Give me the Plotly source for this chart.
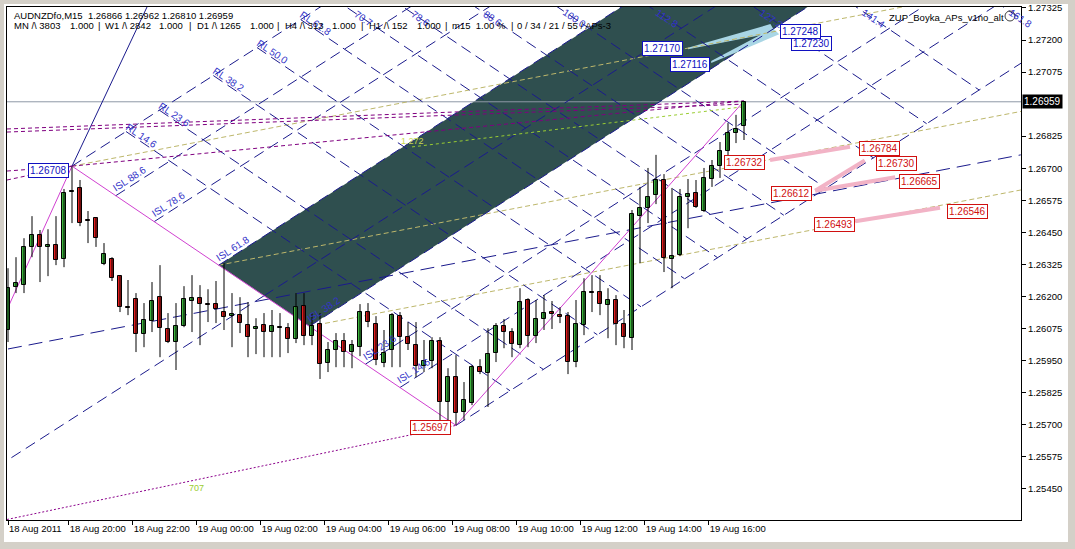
import plotly.graph_objects as go

# ---------------- data ----------------
bar_index = list(range(93))
opens = [1.26069,1.26236,1.26244,1.26393,1.26439,1.26393,1.26400,1.26345,1.26609,1.26623,
         1.26498,1.26505,1.26326,1.26345,1.26279,1.26158,1.26190,1.26053,1.26104,1.26197,
         1.26073,1.26022,1.26084,1.26182,1.26193,1.26170,1.26170,1.26139,1.26123,1.26127,
         1.26088,1.26073,1.26088,1.26061,1.26080,1.26076,1.26034,1.26162,1.26045,1.26092,
         1.25940,1.25991,1.26026,1.25983,1.26002,1.26139,1.26092,1.25940,1.25991,1.26123,
         1.26041,1.26010,1.25928,1.25947,1.26026,1.25788,1.25885,1.25749,1.25784,1.25924,
         1.25901,1.25979,1.26084,1.26061,1.26010,1.26186,1.26045,1.26112,1.26139,1.26127,
         1.26123,1.25944,1.26088,1.26217,1.26217,1.26166,1.26186,1.26092,1.26037,1.26513,
         1.26545,1.26596,1.26654,1.26345,1.26361,1.26588,1.26603,1.26533,1.26658,1.26709,
         1.26767,1.26837,1.26866]
highs = [1.26310,1.26353,1.26427,1.26513,1.26459,1.26462,1.26513,1.26619,1.26708,1.26654,
         1.26533,1.26509,1.26408,1.26353,1.26283,1.26264,1.26213,1.26174,1.26256,1.26322,
         1.26135,1.26174,1.26240,1.26283,1.26244,1.26228,1.26260,1.26330,1.26213,1.26197,
         1.26178,1.26115,1.26135,1.26147,1.26135,1.26096,1.26213,1.26213,1.26135,1.26135,
         1.26022,1.26057,1.26057,1.26030,1.26170,1.26174,1.26123,1.26069,1.26135,1.26139,
         1.26100,1.26100,1.26030,1.26041,1.26041,1.25920,1.25971,1.25866,1.25932,1.25955,
         1.26076,1.26096,1.26112,1.26076,1.26232,1.26193,1.26186,1.26205,1.26182,1.26158,
         1.26139,1.26186,1.26271,1.26283,1.26283,1.26232,1.26205,1.26147,1.26537,1.26627,
         1.26701,1.26752,1.26677,1.26623,1.26619,1.26658,1.26654,1.26701,1.26732,1.26802,
         1.26876,1.26908,1.26962]
lows = [1.26022,1.26213,1.26213,1.26353,1.26256,1.26279,1.26322,1.26314,1.26486,1.26474,
        1.26408,1.26393,1.26322,1.26260,1.26139,1.26127,1.25983,1.26002,1.26061,1.25963,
        1.26018,1.25913,1.26080,1.26061,1.26010,1.26100,1.26096,1.26069,1.26002,1.26057,
        1.25963,1.25975,1.25963,1.25963,1.25963,1.25979,1.26018,1.26010,1.26010,1.25878,
        1.25905,1.25924,1.25924,1.25920,1.25967,1.26080,1.25932,1.25924,1.25924,1.25924,
        1.25991,1.25885,1.25905,1.25920,1.25706,1.25718,1.25697,1.25718,1.25776,1.25897,
        1.25769,1.25944,1.25998,1.25963,1.25998,1.26002,1.26018,1.26069,1.26073,1.26096,
        1.25897,1.25924,1.26049,1.26139,1.26127,1.26037,1.26010,1.25998,1.25991,1.26330,
        1.26486,1.26560,1.26295,1.26232,1.26357,1.26466,1.26545,1.26529,1.26627,1.26662,
        1.26705,1.26798,1.26810]
closes = [1.26232,1.26252,1.26393,1.26439,1.26393,1.26400,1.26341,1.26603,1.26612,1.26486,
          1.26496,1.26427,1.26365,1.26271,1.26158,1.26156,1.26053,1.26108,1.26182,1.26076,
          1.26022,1.26084,1.26190,1.26193,1.26170,1.26168,1.26151,1.26119,1.26131,1.26096,
          1.26041,1.26080,1.26061,1.26084,1.26078,1.26034,1.26158,1.26045,1.26084,1.25936,
          1.25991,1.26026,1.25983,1.26010,1.26139,1.26100,1.25951,1.25979,1.26127,1.26041,
          1.26014,1.25928,1.25947,1.26026,1.25788,1.25885,1.25745,1.25796,1.25924,1.25905,
          1.25975,1.26084,1.26061,1.26014,1.26178,1.26045,1.26112,1.26135,1.26131,1.26119,
          1.25944,1.26092,1.26217,1.26215,1.26170,1.26186,1.26092,1.26041,1.26521,1.26545,
          1.26588,1.26654,1.26349,1.26357,1.26588,1.26599,1.26549,1.26662,1.26709,1.26767,
          1.26837,1.26853,1.26959]

time_tick_index = [0, 8, 16, 24, 32, 40, 48, 56, 64, 72, 80, 88]
time_tick_labels = ["18 Aug 2011", "18 Aug 20:00", "18 Aug 22:00", "19 Aug 00:00",
                    "19 Aug 02:00", "19 Aug 04:00", "19 Aug 06:00", "19 Aug 08:00",
                    "19 Aug 10:00", "19 Aug 12:00", "19 Aug 14:00", "19 Aug 16:00"]
price_tick_values = [1.25325, 1.25450, 1.25575, 1.25700, 1.25825, 1.25950, 1.26075, 1.26200,
                     1.26325, 1.26450, 1.26575, 1.26700, 1.26825, 1.27075, 1.27200, 1.27325]
last_price = 1.26959

# zigzag swing points (bar index, price)
swing_prev = (-1.0, 1.26088)
swing_a = (8, 1.26708)
swing_b = (56, 1.25697)
swing_c = (92, 1.26962)

isl_levels = [100.0, 88.6, 78.6, 61.8, 50.0, 38.2, 23.6, 14.6, 0.0]
isl_labels = [88.6, 78.6, 61.8, 38.2, 23.6, 14.6]
rl_levels = [14.6, 23.6, 38.2, 50.0, 61.8, 70.7, 78.6, 88.6, 100.0, 112.8, 127.2, 141.4, 161.8]
rl_unit_bars = 46.25          # bars along the up-slope for 100 %
up_slope = 0.0002             # price per bar of the up-sloping lattice

fork_slope = 0.0000598        # price per bar of the khaki median lines
blue_long_line = [(0, 1.25995), (126.6, 1.26752)]

blue_boxes = [("1.26708", 5.1, 1.26693), ("1.27170", 81.75, 1.27165),
              ("1.27116", 85.25, 1.27106), ("1.27230", 100.4, 1.27188),
              ("1.27248", 99.1, 1.27235)]
red_boxes = [("1.25697", 52.75, 1.25687), ("1.26732", 92.06, 1.26724),
             ("1.26784", 108.9, 1.26775), ("1.26730", 111.0, 1.26720),
             ("1.26612", 97.9, 1.26603), ("1.26665", 113.9, 1.26650),
             ("1.26493", 103.25, 1.26479), ("1.26546", 119.9, 1.26533)]
pink_lines = [((95.25, 1.26732), (105.25, 1.26784)),
              ((100.9, 1.26612), (107.1, 1.26730)),
              ((100.9, 1.26612), (110.9, 1.26665)),
              ((105.9, 1.26493), (116.5, 1.26546))]
light_wedges = [[(85.0, 1.27170), (95.3, 1.27262), (95.9, 1.27230), (85.0, 1.27164)],
                [(87.9, 1.27118), (95.6, 1.27246), (96.4, 1.27222), (87.9, 1.27110)]]

XMIN, XMAX = -0.125, 126.625
YMIN, YMAX = 1.25328, 1.273287

# ---------------- helpers ----------------
shapes = []
annotations = []
NAVY = "#1a1a8c"
LBLUE = "#3434c8"


def line(p, q, color, width=1, dash=None, layer="below"):
    d = dict(type="line", xref="x", yref="y", x0=p[0], y0=p[1], x1=q[0], y1=q[1],
             line=dict(color=color, width=width), layer=layer)
    if dash:
        d["line"]["dash"] = dash
    shapes.append(d)


def poly(pts, color, layer="below"):
    path = "M " + " L ".join(f"{x},{y}" for x, y in pts) + " Z"
    shapes.append(dict(type="path", xref="x", yref="y", path=path, fillcolor=color,
                       line=dict(width=0), layer=layer))


def along(p, vec, t):
    return (p[0] + vec[0] * t, p[1] + vec[1] * t)


down_vec = (swing_b[0] - swing_a[0], swing_b[1] - swing_a[1])
up_vec = (1.0, up_slope)

# dark channel between ISL 61.8 and ISL 38.2
p618 = along(swing_a, down_vec, 1 - 0.618)
p382 = along(swing_a, down_vec, 1 - 0.382)
poly([p618, p382, along(p382, up_vec, 120), along(p618, up_vec, 120)], "#2f4f4f")

# light blue target wedges
for w in light_wedges:
    poly(w, "#a9d6e5")

# horizontal last price line
line((XMIN, last_price), (XMAX, last_price), "#8f99a6", 1)

# khaki fork lines
for start in [swing_a, p618, p382]:
    line(start, (XMAX + 2, start[1] + fork_slope * (XMAX + 2 - start[0])), "#bdb76b", 1, "5px,3px")

# long blue dashed line
line(blue_long_line[0], blue_long_line[1], NAVY, 1, "14px,7px")

# ISL lattice (up-right)
for k in isl_levels:
    s = along(swing_a, down_vec, 1 - k / 100)
    line(s, along(s, up_vec, 130), NAVY, 1, "11px,6px")
# median ISL 50 also extended down-left
p50 = along(swing_a, down_vec, 0.5)
line(p50, along(p50, up_vec, -60), NAVY, 1, "11px,6px")
# RL lattice (down-right), from the A line to the B line
for k in rl_levels:
    s = along(swing_a, up_vec, k / 100 * rl_unit_bars)
    line(s, along(s, down_vec, 1.0), NAVY, 1, "11px,6px")

# steep solid line from swing A
line(swing_a, (18.0, 1.27370), NAVY, 1)

# purple dashed lines
line((XMIN, 1.26853), swing_c, "#800080", 1, "4px,3px")
line((XMIN, 1.26841), (92, 1.26950), "#800080", 1, "4px,3px")
line((XMIN, 1.26689), swing_a, "#800080", 1, "4px,3px")
line((XMIN, 1.26654), swing_a, "#800080", 1, "4px,3px")
line(swing_a, swing_c, "#800080", 1, "4px,3px")
line((XMIN, 1.25330), swing_b, "#8b008b", 1, "2px,2px")
# light green dotted
line((50.5, 1.26783), (92, 1.26940), "#9acd32", 1, "3px,3px")

# zigzag
for p, q in [(swing_prev, swing_a), (swing_a, swing_b), (swing_b, swing_c)]:
    line(p, q, "#d040d0", 1)

# pink target lines
for p, q in pink_lines:
    line(p, q, "#f2b3c6", 4)

# ---------------- candles ----------------
wx, wy = [], []
for i, h, l in zip(bar_index, highs, lows):
    wx += [i, i, None]
    wy += [l, h, None]
bases, heights, colors = [], [], []
for o, c in zip(opens, closes):
    bases.append(min(o, c))
    heights.append(max(abs(c - o), 0.00002))
    colors.append("#3cb43c" if c >= o else "#e41c1c")

fig = go.Figure()
fig.add_trace(go.Scatter(x=wx, y=wy, mode="lines", line=dict(color="black", width=1),
                         hoverinfo="skip"))
fig.add_trace(go.Bar(x=bar_index, y=heights, base=bases, width=0.6,
                     marker=dict(color=colors, line=dict(color="black", width=1)),
                     hoverinfo="skip"))

# ---------------- labels ----------------
FONT = "Liberation Sans"
px_x = 8.0        # pixels per bar
px_p = 0.000039   # price per pixel


def rot_label(text, x, y, angle):
    annotations.append(dict(x=x, y=y, xref="x", yref="y", text=text, showarrow=False,
                            textangle=angle, font=dict(family=FONT, size=10, color=LBLUE),
                            xanchor="center", yanchor="middle"))


for k in isl_labels:
    s = along(swing_a, down_vec, 1 - k / 100)
    rot_label(f"ISL {k:.1f}", s[0] + 14 / px_x, s[1] + 17 * px_p, -33)

top_price = 1.27356 - 16 * px_p
for k in rl_levels:
    s = along(swing_a, up_vec, k / 100 * rl_unit_bars)
    if s[1] < 1.27356 - 14 * px_p:
        rot_label(f"RL {k:.1f}", s[0] + 15 / px_x, s[1] - 4 * px_p, 34)
    else:
        t = (s[1] - top_price) / -down_vec[1]
        cx = s[0] + down_vec[0] * t
        rot_label(f"{k:.1f}", cx + 4 / px_x, top_price - 2 * px_p, 34)

for text, x, y in blue_boxes:
    annotations.append(dict(x=x, y=y, xref="x", yref="y", text=text, showarrow=False,
                            font=dict(family=FONT, size=10, color="#1010c0"),
                            bgcolor="white", bordercolor="#1010c0", borderwidth=1, borderpad=1))
for text, x, y in red_boxes:
    annotations.append(dict(x=x, y=y, xref="x", yref="y", text=text, showarrow=False,
                            font=dict(family=FONT, size=10, color="#d01010"),
                            bgcolor="white", bordercolor="#d01010", borderwidth=1, borderpad=1))

annotations.append(dict(x=23.5, y=1.25454, xref="x", yref="y", text="707", showarrow=False,
                        font=dict(family=FONT, size=9, color="#9acd32")))
annotations.append(dict(x=50.5, y=1.26805, xref="x", yref="y", text="1.272", showarrow=False,
                        font=dict(family=FONT, size=9, color="#c8d850")))

# last price tag
annotations.append(dict(x=1.0, y=last_price, xref="paper", yref="y", xshift=1, xanchor="left",
                        text="1.26959", showarrow=False, bgcolor="black", borderpad=1,
                        font=dict(family=FONT, size=10, color="white")))

# header texts (pixel positions converted to paper coords)
W, H, L, T = 1014, 513, 7, 7


def header(text, px, py, color="black", size=9.5):
    annotations.append(dict(x=(px - L) / W, y=1 - (py - T) / H, xref="paper", yref="paper",
                            text=text, showarrow=False, xanchor="left", yanchor="middle",
                            font=dict(family=FONT, size=size, color=color)))


header("AUDNZDfo,M15\u00a0\u00a01.26866 1.26962 1.26810 1.26959", 12, 15)
header_parts = [("MN /\\ 3803", 12), ("1.000", 68), ("|", 96), ("W1 /\\ 2842", 103), ("1.000", 157),
                ("|", 187), ("D1 /\\ 1265", 195), ("1.000", 248), ("|", 275), ("H4 /\\ 313", 283),
                ("1.000", 330), ("|", 359), ("H1 /\\ 152", 367), ("1.000", 415), ("|", 443),
                ("m15\u00a0\u00a01.00 %", 450), ("|", 509), ("0 / 34 / 21 / 55 / APs-3", 515)]
for txt, px in header_parts:
    header(txt, px, 26)
header("ZUP_Boyka_APs_v1no_alt", 887, 17)
shapes.append(dict(type="circle", xref="paper", yref="paper",
                   x0=(1005 - L) / W, x1=(1015 - L) / W, y0=1 - (21 - T) / H, y1=1 - (11 - T) / H,
                   line=dict(color="#404040", width=1)))

# window frame
GREY = "#d4d0c8"
for x0, y0, x1, y1 in [(0, 0, 1075, 4), (0, 0, 4, 549), (1068, 0, 1075, 549), (0, 542, 1075, 549)]:
    shapes.append(dict(type="rect", xref="paper", yref="paper",
                       x0=(x0 - L) / W, x1=(x1 - L) / W, y0=1 - (y1 - T) / H, y1=1 - (y0 - T) / H,
                       fillcolor=GREY, line=dict(width=0), layer="above"))

fig.update_layout(
    template="none",
    width=1075, height=549, autosize=False,
    margin=dict(l=L, r=1075 - L - W, t=T, b=549 - T - H, pad=0),
    paper_bgcolor="white", plot_bgcolor="white",
    showlegend=False, barmode="overlay", bargap=0,
    shapes=shapes, annotations=annotations,
    xaxis=dict(range=[XMIN, XMAX], showgrid=False, zeroline=False, showline=True,
               linecolor="black", linewidth=1, mirror=True, automargin=False,
               tickvals=[v - 0.4 if v else v for v in time_tick_index], ticktext=time_tick_labels,
               ticks="outside", ticklen=4, tickcolor="black", tickangle=0,
               ticklabelposition="outside right",
               tickfont=dict(family=FONT, size=9.5, color="black")),
    yaxis=dict(range=[YMIN, YMAX], side="right", showgrid=False, zeroline=False,
               showline=True, linecolor="black", linewidth=1, mirror=True, automargin=False,
               tickvals=price_tick_values, ticktext=[f"{v:.5f}" for v in price_tick_values],
               ticks="outside", ticklen=4, tickcolor="black",
               tickfont=dict(family=FONT, size=9.5, color="black")),
)

fig.write_html("out.html", config={"displayModeBar": False},
               post_script="document.body.style.margin='0px';")
